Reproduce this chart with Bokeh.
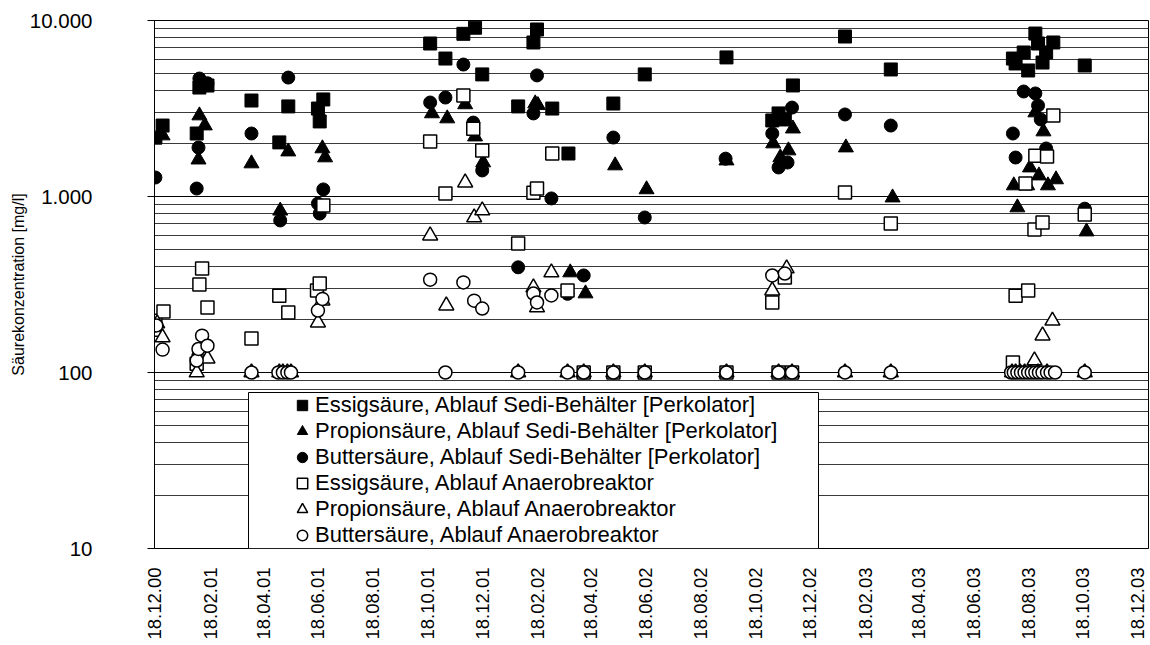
import math
import pandas as pd
from bokeh.plotting import figure
from bokeh.models import (Range1d, FixedTicker, DatetimeTickFormatter, Legend, LegendItem,
                          BoxAnnotation, ColumnDataSource, CustomJSTickFormatter)
from bokeh.embed import file_html
from bokeh.resources import INLINE

# ---------------- data ----------------
es_dates = ["2000-12-19", "2000-12-27", "2001-02-03", "2001-02-06", "2001-02-15", "2001-04-05",
            "2001-05-06", "2001-05-16", "2001-06-18", "2001-06-20", "2001-06-24", "2001-10-21",
            "2001-11-07", "2001-11-27", "2001-12-10", "2001-12-18", "2002-01-27", "2002-02-13",
            "2002-02-17", "2002-03-06", "2002-03-24", "2002-05-13", "2002-06-17", "2002-09-16",
            "2002-11-06", "2002-11-13", "2002-11-20", "2002-11-29", "2003-01-26", "2003-03-18",
            "2003-08-01", "2003-08-04", "2003-08-13", "2003-08-18", "2003-08-26", "2003-08-29",
            "2003-09-03", "2003-09-07", "2003-09-15", "2003-10-20"]
es_vals = [2160, 2530, 2280, 4160, 4270, 3510, 2030, 3250, 3160, 2670, 3560, 7400,
           6080, 8400, 9100, 4940, 3250, 7500, 8890, 3160, 1755, 3375, 4940, 6170,
           2705, 2965, 2740, 4275, 8110, 5270, 6080, 5700, 6580, 5200, 8430, 7400,
           5770, 6580, 7500, 5550]

ps_dates = ["2000-12-27", "2001-02-05", "2001-02-06", "2001-02-12", "2001-04-05", "2001-05-07",
            "2001-05-16", "2001-06-23", "2001-06-26", "2001-10-23", "2001-11-09", "2001-11-29",
            "2001-12-10", "2001-12-19", "2002-02-15", "2002-02-18", "2002-03-26", "2002-04-12",
            "2002-05-15", "2002-06-19", "2002-09-16", "2002-11-07", "2002-11-15", "2002-11-24",
            "2002-11-29", "2003-01-27", "2003-03-20", "2003-08-02", "2003-08-06", "2003-08-17",
            "2003-08-20", "2003-08-26", "2003-08-30", "2003-09-04", "2003-09-09", "2003-09-18",
            "2003-10-22"]
ps_vals = [2220, 1620, 2885, 2530, 1540, 830, 1800, 1875, 1666, 2965, 2775, 3336,
           2190, 1560, 3375, 3300, 370, 281, 1500, 1097, 1600, 2000, 1666, 1825,
           2430, 1897, 986, 1155, 866, 1155, 1460, 3000, 1315, 2340, 1155, 1250, 632]

bs_dates = ["2000-12-19", "2001-02-03", "2001-02-05", "2001-02-06", "2001-02-15", "2001-04-05",
            "2001-05-07", "2001-05-16", "2001-06-18", "2001-06-20", "2001-06-24", "2001-10-21",
            "2001-11-07", "2001-11-27", "2001-12-08", "2001-12-18", "2002-01-27", "2002-02-13",
            "2002-02-17", "2002-03-05", "2002-03-23", "2002-04-10", "2002-05-13", "2002-06-17",
            "2002-09-15", "2002-11-06", "2002-11-13", "2002-11-23", "2002-11-28", "2003-01-26",
            "2003-03-18", "2003-08-01", "2003-08-04", "2003-08-13", "2003-08-26", "2003-08-29",
            "2003-09-01", "2003-09-07", "2003-10-20"]
bs_vals = [1282, 1110, 1897, 4680, 4400, 2280, 731, 4740, 912, 800, 1097, 3420,
           3650, 5620, 2630, 1406, 396, 2965, 4875, 975, 280, 356, 2163, 760,
           1640, 2280, 1462, 1560, 3200, 2925, 2530, 2280, 1665, 3950, 3850, 3290,
           2740, 1874, 853]

ea_dates = ["2000-12-19", "2000-12-28", "2001-02-03", "2001-02-06", "2001-02-09", "2001-02-15",
            "2001-04-05", "2001-05-06", "2001-05-16", "2001-06-17", "2001-06-20", "2001-06-24",
            "2001-10-21", "2001-11-07", "2001-11-27", "2001-12-08", "2001-12-18", "2002-01-27",
            "2002-02-13", "2002-02-17", "2002-03-06", "2002-03-23", "2002-04-10", "2002-05-13",
            "2002-06-17", "2002-09-16", "2002-11-06", "2002-11-13", "2002-11-20", "2002-11-28",
            "2003-01-26", "2003-03-18", "2003-08-01", "2003-08-04", "2003-08-15", "2003-08-18",
            "2003-08-26", "2003-08-25", "2003-09-03", "2003-09-08", "2003-09-15", "2003-10-20"]
ea_vals = [197, 222, 112, 316, 390, 234, 156, 273, 219, 292, 320, 890,
           2055, 1040, 3750, 2430, 1825, 541, 1050, 1110, 1755, 292, 100, 100,
           100, 100, 250, 100, 347, 100, 1055, 703, 114, 273, 1185, 292,
           1706, 649, 712, 1690, 2885, 790]

pa_dates = ["2000-12-19", "2000-12-21", "2000-12-27", "2001-02-03", "2001-02-06", "2001-02-15",
            "2001-04-05", "2001-05-06", "2001-05-10", "2001-05-15", "2001-05-19", "2001-06-18",
            "2001-06-23", "2001-10-21", "2001-11-08", "2001-11-29", "2001-12-09", "2001-12-18",
            "2002-01-27", "2002-02-13", "2002-02-17", "2002-03-05", "2002-03-23", "2002-04-10",
            "2002-05-13", "2002-06-17", "2002-09-16", "2002-11-06", "2002-11-13", "2002-11-22",
            "2002-11-28", "2003-01-26", "2003-03-18", "2003-07-31", "2003-08-04", "2003-08-09",
            "2003-08-14", "2003-08-20", "2003-08-25", "2003-08-29", "2003-09-03", "2003-09-08",
            "2003-09-14", "2003-10-20"]
pa_vals = [170, 190, 158, 100, 133, 120, 100, 100, 100, 100, 100, 192,
           256, 600, 240, 1200, 760, 833, 100, 304, 234, 370, 100, 100,
           100, 100, 100, 292, 100, 390, 100, 100, 100, 100, 100, 100,
           100, 100, 117, 100, 162, 100, 197, 100]

ba_dates = ["2000-12-20", "2000-12-27", "2001-02-03", "2001-02-05", "2001-02-09", "2001-02-15",
            "2001-04-05", "2001-05-05", "2001-05-10", "2001-05-15", "2001-05-19", "2001-06-18",
            "2001-06-23", "2001-10-21", "2001-11-07", "2001-11-27", "2001-12-09", "2001-12-18",
            "2002-01-27", "2002-02-13", "2002-02-17", "2002-03-05", "2002-03-23", "2002-04-10",
            "2002-05-13", "2002-06-17", "2002-09-16", "2002-11-06", "2002-11-13", "2002-11-20",
            "2002-11-28", "2003-01-26", "2003-03-18", "2003-07-30", "2003-08-02", "2003-08-06",
            "2003-08-10", "2003-08-14", "2003-08-18", "2003-08-22", "2003-08-26", "2003-08-30",
            "2003-09-03", "2003-09-08", "2003-09-12", "2003-09-17", "2003-10-20"]
ba_vals = [185, 135, 117, 136, 162, 142, 100, 100, 100, 100, 100, 225,
           262, 337, 100, 325, 256, 231, 100, 281, 250, 274, 100, 100,
           100, 100, 100, 356, 100, 365, 100, 100, 100, 100, 100, 100,
           100, 100, 100, 100, 100, 100, 100, 100, 100, 100, 100]

series_labels = ["Essigsäure, Ablauf Sedi-Behälter [Perkolator]",
                 "Propionsäure, Ablauf Sedi-Behälter [Perkolator]",
                 "Buttersäure, Ablauf Sedi-Behälter [Perkolator]",
                 "Essigsäure, Ablauf Anaerobreaktor",
                 "Propionsäure, Ablauf Anaerobreaktor",
                 "Buttersäure, Ablauf Anaerobreaktor"]

tick_dates = ["2000-12-18", "2001-02-18", "2001-04-18", "2001-06-18", "2001-08-18", "2001-10-18",
              "2001-12-18", "2002-02-18", "2002-04-18", "2002-06-18", "2002-08-18", "2002-10-18",
              "2002-12-18", "2003-02-18", "2003-04-18", "2003-06-18", "2003-08-18", "2003-10-18",
              "2003-12-18"]
y_ticks = [10, 100, 1000, 10000]
y_minor = [m * d for d in (10, 100, 1000) for m in range(2, 10)]

x_start, x_end = "2000-12-18", "2003-12-30"

# ---------------- figure ----------------
FONT = "Liberation Sans"

def ms(s):
    return pd.Timestamp(s).value // 10**6

p = figure(width=1150, height=645, x_axis_type="datetime", y_axis_type="log",
           x_range=Range1d(ms(x_start), ms(x_end)), y_range=Range1d(10, 10000),
           output_backend="svg", toolbar_location=None,
           min_border_left=154, min_border_right=2, min_border_top=20, min_border_bottom=97,
           background_fill_color="white", border_fill_color="white")

p.outline_line_color = "black"
p.outline_line_width = 1
p.outline_line_alpha = 1

# y axis
p.yaxis.ticker = FixedTicker(ticks=y_ticks, minor_ticks=y_minor)
p.yaxis.formatter = CustomJSTickFormatter(
    code="return Math.round(tick).toString().replace(/\\B(?=(\\d{3})+(?!\\d))/g, '.');")
p.yaxis.axis_label = "Säurekonzentration [mg/l]"
p.yaxis.axis_label_text_font = FONT
p.yaxis.axis_label_text_font_size = "16px"
p.yaxis.axis_label_text_font_style = "normal"
p.yaxis.axis_label_text_color = "black"
p.yaxis.axis_label_standoff = 0
p.yaxis.major_label_text_font = FONT
p.yaxis.major_label_text_font_size = "20.5px"
p.yaxis.major_label_text_color = "black"
p.yaxis.major_label_standoff = 55
p.yaxis.major_tick_out = 7
p.yaxis.major_tick_in = 0
p.yaxis.minor_tick_out = 0
p.yaxis.minor_tick_in = 0
p.yaxis.axis_line_color = "black"
p.yaxis.major_tick_line_color = "black"

# x axis
p.xaxis.ticker = FixedTicker(ticks=[ms(d) for d in tick_dates])
fmt = "%d.%m.%y"
p.xaxis.formatter = DatetimeTickFormatter(days=fmt, months=fmt, years=fmt, hours=fmt,
                                          hourmin=fmt, minutes=fmt, minsec=fmt, seconds=fmt,
                                          milliseconds=fmt, microseconds=fmt)
p.xaxis.major_label_orientation = math.pi / 2
p.xaxis.major_label_text_font = FONT
p.xaxis.major_label_text_font_size = "18.5px"
p.xaxis.major_label_text_color = "black"
p.xaxis.major_label_standoff = 19
p.xaxis.major_tick_out = 0
p.xaxis.major_tick_in = 0
p.xaxis.minor_tick_out = 0
p.xaxis.minor_tick_in = 0
p.xaxis.axis_line_color = "black"

# grids
p.xgrid.visible = False
p.ygrid.grid_line_color = "black"
p.ygrid.grid_line_width = 1
p.ygrid.minor_grid_line_color = "#3a3a3a"
p.ygrid.minor_grid_line_width = 1

# ---------------- series ----------------
specs = [
    (es_dates, es_vals, "square", "black", 13),
    (ps_dates, ps_vals, "triangle", "black", 15),
    (bs_dates, bs_vals, "circle", "black", 13),
    (ea_dates, ea_vals, "square", "white", 13),
    (pa_dates, pa_vals, "triangle", "white", 15),
    (ba_dates, ba_vals, "circle", "white", 13),
]
renderers = []
for (dates, vals, marker, fill, size), lab in zip(specs, series_labels):
    src = ColumnDataSource(dict(x=pd.to_datetime(dates), y=vals))
    r = p.scatter("x", "y", source=src, marker=marker, size=size,
                  fill_color=fill, line_color="black", line_width=1.5 if fill == "white" else 1)
    renderers.append((lab, r))

# legend frame (white box) and legend entries
box = BoxAnnotation(left=94, right=664, bottom=0, top=156,
                    left_units="screen", right_units="screen",
                    bottom_units="screen", top_units="screen",
                    fill_color="white", fill_alpha=1, line_color="black", line_width=1,
                    line_alpha=1, level="annotation")
p.add_layout(box)

legend = Legend(items=[LegendItem(label=lab, renderers=[r]) for lab, r in renderers],
                location=(135, 0), padding=0, margin=0, spacing=0,
                glyph_width=26, glyph_height=26, label_height=26, label_standoff=0,
                label_text_font=FONT, label_text_font_size="22px", label_text_color="black",
                background_fill_alpha=0, border_line_alpha=0)
p.add_layout(legend)

open("out.html", "w").write(file_html(p, INLINE))
